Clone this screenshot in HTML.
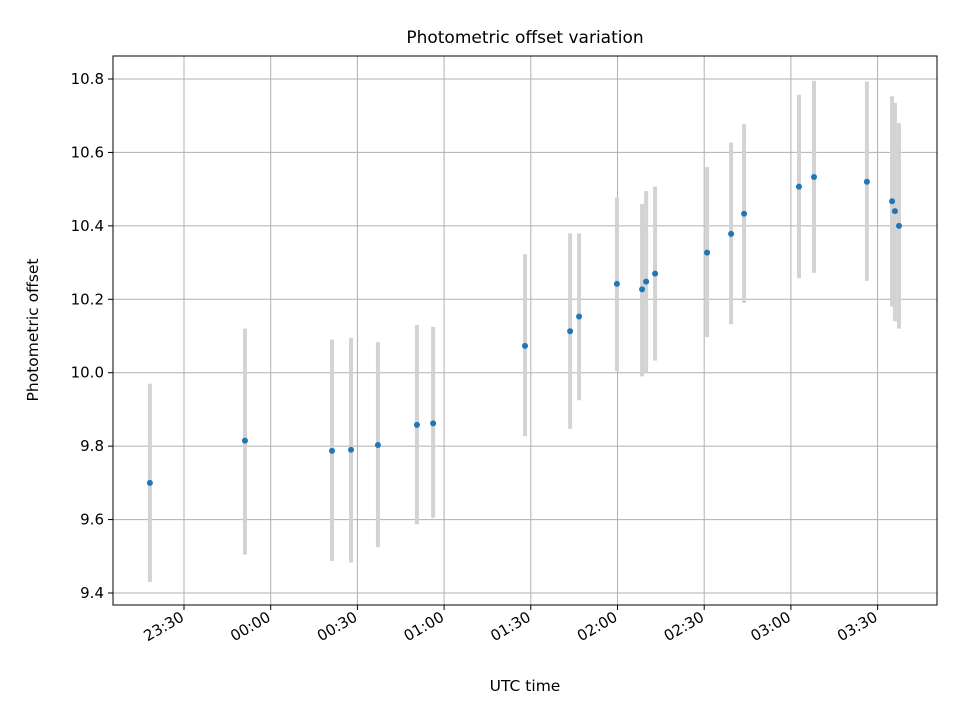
<!DOCTYPE html>
<html><head><meta charset="utf-8"><style>
body{margin:0;background:#fff;}
svg text{font-family:"DejaVu Sans","Liberation Sans",sans-serif;fill:#000;}
</style></head><body>
<svg id="chart" width="960" height="720" xmlns="http://www.w3.org/2000/svg">
<rect width="960" height="720" fill="#fff"/>
<text x="525" y="43" style="font-size:17px" text-anchor="middle">Photometric offset variation</text>
<g id="grid"></g>
<g id="bars"></g>
<g id="pts"></g>
<rect x="113" y="56" width="824" height="549" fill="none" stroke="#000" stroke-width="1"/>
<g id="axes"></g>
<text x="525" y="691" style="font-size:15.5px" text-anchor="middle">UTC time</text>
<text x="38" y="330" style="font-size:15.5px" text-anchor="middle" transform="rotate(-90 38 330)">Photometric offset</text>
</svg>
<script>
// minutes relative to 23:30
const times=[-11.8,21.1,51.2,57.8,67.1,80.6,86.2,118,133.6,136.7,149.8,158.5,159.9,163,181,189.3,193.8,212.8,218,236.3,245,246,247.4];
const values=[9.70,9.815,9.787,9.79,9.803,9.858,9.862,10.073,10.113,10.153,10.242,10.227,10.248,10.27,10.327,10.378,10.433,10.507,10.533,10.52,10.467,10.44,10.40];
const lows=[9.43,9.505,9.487,9.483,9.525,9.587,9.605,9.827,9.847,9.925,10.005,9.99,10.0,10.033,10.097,10.132,10.19,10.257,10.272,10.25,10.18,10.14,10.12];
const highs=[9.97,10.12,10.09,10.095,10.083,10.13,10.125,10.323,10.38,10.38,10.477,10.46,10.495,10.507,10.56,10.627,10.677,10.757,10.795,10.793,10.753,10.735,10.68];
const xTicks=[0,30,60,90,120,150,180,210,240];
const xTickLabels=["23:30","00:00","00:30","01:00","01:30","02:00","02:30","03:00","03:30"];
const yTicks=[9.4,9.6,9.8,10.0,10.2,10.4,10.6,10.8];
const yTickLabels=["9.4","9.6","9.8","10.0","10.2","10.4","10.6","10.8"];
const NS="http://www.w3.org/2000/svg";
const X=m=>184+m*86.7/30;
const Y=v=>79+(10.8-v)*367.14;
function mk(tag,attrs,parent){const e=document.createElementNS(NS,tag);for(const k in attrs)e.setAttribute(k,attrs[k]);document.getElementById(parent).appendChild(e);return e;}
xTicks.forEach((t,i)=>{
 const x=X(t);
 const g=mk('line',{x1:x,x2:x,y1:56,y2:605,stroke:'#b0b0b0','stroke-width':1},'grid');
 
 
 const tk=mk('line',{x1:x,x2:x,y1:605,y2:610,stroke:'#000'},'axes');
 
 
 const tx=mk('text',{x:x+1,y:620,style:'font-size:15px','text-anchor':'end',transform:`rotate(-30 ${x+1} 620)`},'axes');
 tx.textContent=xTickLabels[i];
 
 
});
yTicks.forEach((v,i)=>{
 const y=Y(v);
 const g=mk('line',{x1:113,x2:937,y1:y,y2:y,stroke:'#b0b0b0','stroke-width':1},'grid');
 
 
 const tk=mk('line',{x1:108,x2:113,y1:y,y2:y,stroke:'#000'},'axes');
 
 
 const tx=mk('text',{x:104,y:y+5,style:'font-size:15px','text-anchor':'end'},'axes');
 tx.textContent=yTickLabels[i];
 
 
});
times.forEach((t,i)=>{
 const x=X(t);
 const b=mk('line',{x1:x,x2:x,y1:Y(highs[i]),y2:Y(lows[i]),stroke:'#d3d3d3','stroke-width':4},'bars');
 
 
 const p=mk('circle',{cx:x,cy:Y(values[i]),r:3,fill:'#1f77b4'},'pts');
 
 
});
</script>
</body></html>
